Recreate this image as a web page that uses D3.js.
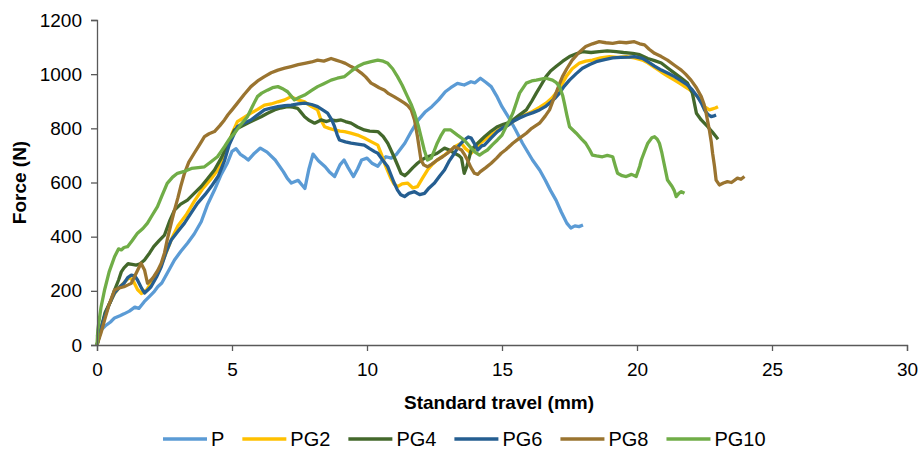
<!DOCTYPE html>
<html>
<head>
<meta charset="utf-8">
<script src="https://cdn.jsdelivr.net/npm/d3@7"></script>
<style>
  body { margin: 0; background: #fff; }
  svg text { font-family: "Liberation Sans", Arial, sans-serif; fill: #000; }
</style>
</head>
<body>
<div class="canvas"></div>
<script>
// [travel mm, force N]
const P = [[0,30],[0.15,55],[0.3,70],[0.5,85],[0.65,100],[0.85,108],[1.0,115],[1.2,125],[1.4,140],[1.55,135],[1.75,160],[1.9,175],[2.1,195],[2.25,215],[2.4,229],[2.6,265],[2.87,314],[3.1,345],[3.35,376],[3.6,410],[3.86,455],[4.1,520],[4.35,572],[4.6,630],[4.83,672],[5.0,715],[5.15,725],[5.3,705],[5.45,695],[5.6,683],[5.8,705],[6.05,727],[6.3,712],[6.6,683],[6.9,640],[7.05,615],[7.2,598],[7.45,608],[7.6,590],[7.7,578],[7.85,650],[8.0,705],[8.2,680],[8.45,658],[8.6,640],[8.8,622],[9.0,665],[9.15,683],[9.3,655],[9.5,622],[9.65,650],[9.8,683],[10.0,690],[10.2,670],[10.4,660],[10.55,680],[10.7,695],[10.9,690],[11.1,705],[11.4,745],[11.65,790],[11.9,831],[12.15,860],[12.4,880],[12.65,905],[12.9,935],[13.1,950],[13.35,966],[13.6,960],[13.85,972],[14.0,968],[14.2,985],[14.4,970],[14.6,954],[14.8,920],[15.0,880],[15.3,831],[15.5,795],[15.76,745],[16.13,683],[16.4,645],[16.6,609],[16.8,570],[17.0,535],[17.2,490],[17.4,450],[17.55,432],[17.7,440],[17.85,437],[18.0,443]];

const PG2 = [[0,0],[0.2,80],[0.4,140],[0.65,190],[0.85,215],[1.0,230],[1.2,250],[1.35,235],[1.5,205],[1.65,190],[1.85,205],[2.0,230],[2.2,260],[2.4,300],[2.6,350],[2.8,400],[3.0,440],[3.3,480],[3.6,530],[3.9,575],[4.2,610],[4.5,650],[4.8,720],[5.0,780],[5.2,825],[5.45,840],[5.7,856],[5.95,870],[6.2,886],[6.45,890],[6.7,898],[6.95,905],[7.19,917],[7.45,905],[7.69,898],[7.95,880],[8.17,868],[8.3,830],[8.43,806],[8.6,800],[8.8,794],[9.0,790],[9.17,788],[9.4,782],[9.65,775],[9.9,764],[10.15,751],[10.4,738],[10.55,700],[10.65,671],[10.88,616],[11.0,595],[11.13,585],[11.3,595],[11.5,598],[11.7,580],[11.87,585],[12.05,615],[12.24,646],[12.4,665],[12.6,683],[12.85,700],[13.1,720],[13.3,735],[13.49,745],[13.65,725],[13.86,708],[14.0,725],[14.2,745],[14.45,765],[14.7,782],[14.95,800],[15.2,810],[15.4,825],[15.65,843],[15.9,852],[16.13,862],[16.4,878],[16.63,893],[16.85,912],[17.0,930],[17.2,960],[17.38,991],[17.6,1020],[17.87,1041],[18.1,1048],[18.35,1052],[18.65,1060],[18.98,1065],[19.3,1062],[19.6,1065],[19.9,1060],[20.2,1052],[20.4,1042],[20.65,1025],[20.9,1008],[21.15,992],[21.39,978],[21.6,965],[21.87,948],[22.05,935],[22.24,917],[22.4,895],[22.5,880],[22.68,868],[22.8,872],[22.9,875],[23.0,880]];

const PG4 = [[0,0],[0.15,60],[0.3,120],[0.5,160],[0.65,203],[0.8,240],[0.9,270],[1.0,285],[1.15,300],[1.3,298],[1.45,295],[1.6,300],[1.76,314],[1.95,340],[2.1,363],[2.3,385],[2.5,406],[2.7,460],[2.87,498],[3.1,520],[3.35,535],[3.6,560],[3.86,585],[4.1,615],[4.35,646],[4.6,690],[4.83,740],[5.09,794],[5.3,805],[5.57,819],[5.8,830],[6.08,843],[6.3,855],[6.57,868],[6.8,875],[7.06,880],[7.25,878],[7.43,874],[7.55,860],[7.69,843],[7.85,830],[8.06,819],[8.3,831],[8.5,825],[8.67,831],[8.85,828],[9.04,831],[9.2,825],[9.41,819],[9.65,805],[9.9,794],[10.1,790],[10.4,788],[10.6,770],[10.77,745],[11.0,695],[11.15,660],[11.26,634],[11.4,625],[11.5,634],[11.7,655],[11.87,671],[12.05,685],[12.24,695],[12.4,700],[12.6,708],[12.87,727],[13.05,720],[13.24,708],[13.4,700],[13.5,690],[13.6,634],[13.7,660],[13.86,720],[14.1,745],[14.35,769],[14.6,790],[14.83,806],[15.05,815],[15.2,819],[15.4,831],[15.65,850],[15.9,868],[16.1,900],[16.27,930],[16.45,960],[16.63,991],[16.8,1012],[17.0,1028],[17.25,1048],[17.5,1065],[17.75,1075],[17.98,1083],[18.3,1080],[18.6,1083],[18.9,1086],[19.23,1083],[19.5,1080],[19.84,1077],[20.1,1072],[20.4,1058],[20.65,1050],[20.9,1041],[21.15,1022],[21.39,1004],[21.6,988],[21.87,967],[22.05,930],[22.2,856],[22.38,831],[22.62,806],[22.8,785],[22.93,769],[23.0,760]];

const PG6 = [[0,0],[0.15,60],[0.28,105],[0.45,150],[0.65,192],[0.85,215],[1.0,228],[1.15,250],[1.27,258],[1.4,255],[1.5,240],[1.65,210],[1.76,192],[1.9,205],[2.0,215],[2.2,250],[2.38,289],[2.55,340],[2.75,388],[3.0,420],[3.24,450],[3.5,490],[3.72,523],[4.0,555],[4.23,585],[4.5,625],[4.72,680],[4.9,740],[5.2,806],[5.45,820],[5.7,831],[5.95,850],[6.2,868],[6.45,875],[6.7,880],[6.95,884],[7.19,886],[7.45,890],[7.69,893],[7.95,888],[8.17,880],[8.4,865],[8.54,856],[8.7,830],[8.8,806],[8.9,775],[8.98,757],[9.2,750],[9.41,745],[9.65,742],[9.9,738],[10.1,725],[10.28,714],[10.4,708],[10.6,680],[10.77,658],[11.0,600],[11.13,572],[11.25,555],[11.39,548],[11.55,560],[11.76,566],[11.95,555],[12.13,560],[12.3,580],[12.5,598],[12.7,625],[12.87,646],[13.05,680],[13.24,708],[13.4,735],[13.6,757],[13.75,768],[13.86,764],[14.0,740],[14.1,720],[14.25,735],[14.35,738],[14.6,765],[14.83,788],[15.0,800],[15.2,810],[15.4,825],[15.65,838],[15.9,849],[16.15,858],[16.39,868],[16.6,880],[16.76,893],[16.95,910],[17.13,930],[17.3,955],[17.5,978],[17.75,1002],[17.98,1022],[18.25,1036],[18.49,1046],[18.8,1054],[19.1,1060],[19.4,1062],[19.72,1063],[19.9,1065],[20.2,1058],[20.4,1046],[20.65,1030],[20.9,1015],[21.15,1003],[21.39,991],[21.6,978],[21.87,960],[22.05,942],[22.24,917],[22.4,890],[22.5,868],[22.62,852],[22.75,843],[22.85,846],[22.93,849]];

const PG8 = [[0,0],[0.15,45],[0.28,92],[0.45,150],[0.65,203],[0.8,210],[1.0,215],[1.15,222],[1.27,228],[1.45,265],[1.63,302],[1.76,277],[1.87,228],[2.0,240],[2.1,252],[2.25,275],[2.38,302],[2.5,340],[2.6,388],[2.75,450],[2.87,498],[3.0,545],[3.1,585],[3.24,634],[3.4,675],[3.6,708],[3.8,740],[3.98,769],[4.15,780],[4.35,788],[4.55,810],[4.72,831],[4.85,850],[5.0,868],[5.2,893],[5.45,925],[5.7,954],[5.95,975],[6.2,991],[6.45,1005],[6.7,1015],[6.95,1022],[7.19,1028],[7.45,1035],[7.69,1040],[7.95,1045],[8.17,1052],[8.4,1048],[8.67,1058],[8.85,1052],[9.04,1046],[9.2,1040],[9.41,1028],[9.6,1018],[9.79,1004],[9.95,990],[10.15,967],[10.28,960],[10.45,950],[10.65,941],[10.8,928],[11.0,917],[11.2,905],[11.39,893],[11.5,885],[11.64,868],[11.76,831],[11.87,769],[12.0,683],[12.1,665],[12.24,658],[12.4,668],[12.6,683],[12.8,695],[12.98,708],[13.1,718],[13.24,732],[13.35,728],[13.5,720],[13.6,705],[13.72,683],[13.85,655],[13.98,634],[14.1,630],[14.2,640],[14.4,655],[14.6,671],[14.8,690],[14.97,708],[15.15,722],[15.4,745],[15.6,760],[15.9,782],[16.1,800],[16.39,819],[16.6,845],[16.76,868],[16.9,905],[17.0,930],[17.12,962],[17.24,991],[17.4,1020],[17.6,1052],[17.85,1080],[18.1,1102],[18.35,1112],[18.6,1120],[18.85,1116],[19.1,1114],[19.35,1118],[19.6,1116],[19.9,1120],[20.1,1112],[20.28,1108],[20.45,1092],[20.65,1077],[20.9,1065],[21.13,1052],[21.4,1032],[21.64,1015],[21.8,1000],[22.0,978],[22.2,950],[22.38,917],[22.48,890],[22.56,856],[22.62,825],[22.68,794],[22.75,750],[22.8,708],[22.87,660],[22.93,609],[23.05,591],[23.2,598],[23.35,603],[23.5,600],[23.72,616],[23.85,612],[23.98,622]];

const PG10 = [[0,0],[0.03,55],[0.15,140],[0.28,203],[0.45,270],[0.65,326],[0.8,355],[0.9,351],[1.0,360],[1.13,363],[1.3,385],[1.5,413],[1.7,430],[1.87,450],[2.05,480],[2.24,511],[2.4,550],[2.6,597],[2.8,620],[2.98,634],[3.2,640],[3.5,652],[3.75,655],[3.98,658],[4.2,675],[4.46,695],[4.6,715],[4.72,732],[4.9,760],[5.09,782],[5.3,810],[5.57,843],[5.75,880],[5.94,917],[6.1,930],[6.31,941],[6.5,950],[6.7,954],[6.9,945],[7.06,935],[7.2,918],[7.31,905],[7.5,915],[7.69,923],[7.95,940],[8.17,954],[8.4,965],[8.67,978],[8.9,985],[9.17,991],[9.4,1010],[9.65,1028],[9.9,1040],[10.15,1046],[10.4,1052],[10.6,1048],[10.77,1040],[10.95,1020],[11.13,991],[11.3,960],[11.5,917],[11.65,885],[11.76,856],[11.9,810],[12.0,769],[12.12,720],[12.24,683],[12.38,690],[12.5,720],[12.6,745],[12.75,775],[12.87,794],[13.1,794],[13.35,775],[13.6,757],[13.86,727],[14.0,712],[14.17,701],[14.3,710],[14.46,720],[14.65,740],[14.83,757],[15.0,775],[15.15,806],[15.28,830],[15.4,856],[15.55,900],[15.65,930],[15.9,967],[16.1,975],[16.27,978],[16.45,982],[16.63,985],[16.87,978],[17.0,970],[17.13,954],[17.25,920],[17.31,893],[17.4,850],[17.5,806],[17.75,782],[17.95,760],[18.1,745],[18.25,720],[18.35,701],[18.5,698],[18.72,695],[18.9,700],[19.1,695],[19.2,660],[19.28,634],[19.45,625],[19.6,622],[19.8,630],[19.97,622],[20.1,660],[20.16,683],[20.3,720],[20.4,745],[20.55,765],[20.65,769],[20.75,760],[20.83,745],[20.92,710],[21.0,671],[21.13,609],[21.3,585],[21.38,570],[21.45,548],[21.55,560],[21.64,566],[21.76,560]];

const seriesNames = ["P", "PG2", "PG4", "PG6", "PG8", "PG10"];
const seriesData = [P, PG2, PG4, PG6, PG8, PG10];
const colors = ["#5B9BD5", "#FFC000", "#43682B", "#255E91", "#9A7430", "#70AD47"];
const xTicks = [0, 5, 10, 15, 20, 25, 30];
const yTicks = [0, 200, 400, 600, 800, 1000, 1200];

const W = 919, H = 453;
const margin = { top: 20, right: 12, bottom: 108, left: 97 };
const width = W - margin.left - margin.right;
const height = H - margin.top - margin.bottom;

const svg = d3.select(".canvas").append("svg").attr("width", W).attr("height", H);
const chart = svg.append("g").attr("transform", `translate(${margin.left}, ${margin.top})`);

const x = d3.scaleLinear().domain([0, 30]).range([0, width]);
const y = d3.scaleLinear().domain([0, 1200]).range([height, 0]);

const line = d3.line().x((d) => x(d[0])).y((d) => y(d[1]));

chart.selectAll(".series")
  .data(seriesData)
  .enter()
  .append("path")
  .attr("class", "series")
  .attr("d", (d) => line(d))
  .attr("fill", "none")
  .attr("stroke", (d, i) => colors[i])
  .attr("stroke-width", 3.3)
  .attr("stroke-linejoin", "round");

const xAxis = chart.append("g")
  .attr("transform", `translate(0, ${height})`)
  .call(d3.axisBottom(x).tickValues(xTicks).tickSize(6).tickPadding(12));
const yAxis = chart.append("g")
  .call(d3.axisLeft(y).tickValues(yTicks).tickFormat(d3.format("d")).tickSize(6).tickPadding(9));

[xAxis, yAxis].forEach((g) => {
  g.select(".domain").attr("stroke", "#595959").attr("stroke-width", 1.3);
  g.selectAll(".tick line").attr("stroke", "#595959").attr("stroke-width", 1.3);
  g.selectAll("text").style("font-size", "19px").attr("fill", "#000");
});

svg.append("text")
  .attr("x", margin.left + width / 2 - 3)
  .attr("y", 409)
  .attr("text-anchor", "middle")
  .style("font-size", "19px")
  .style("font-weight", "bold")
  .text("Standard travel (mm)");

svg.append("text")
  .attr("transform", `translate(26, ${margin.top + height / 2}) rotate(-90)`)
  .attr("text-anchor", "middle")
  .style("font-size", "19px")
  .style("font-weight", "bold")
  .text("Force (N)");

// legend
const legend = svg.append("g").attr("transform", "translate(163, 446)");
let offset = 0;
seriesNames.forEach((name, i) => {
  const item = legend.append("g").attr("transform", `translate(${offset}, 0)`);
  item.append("line")
    .attr("x1", 0).attr("x2", 44)
    .attr("y1", -7).attr("y2", -7)
    .attr("stroke", colors[i])
    .attr("stroke-width", 3.3);
  const t = item.append("text")
    .attr("x", 48)
    .style("font-size", "20px")
    .text(name);
  offset += 48 + t.node().getComputedTextLength() + 18;
});
</script>
</body>
</html>
